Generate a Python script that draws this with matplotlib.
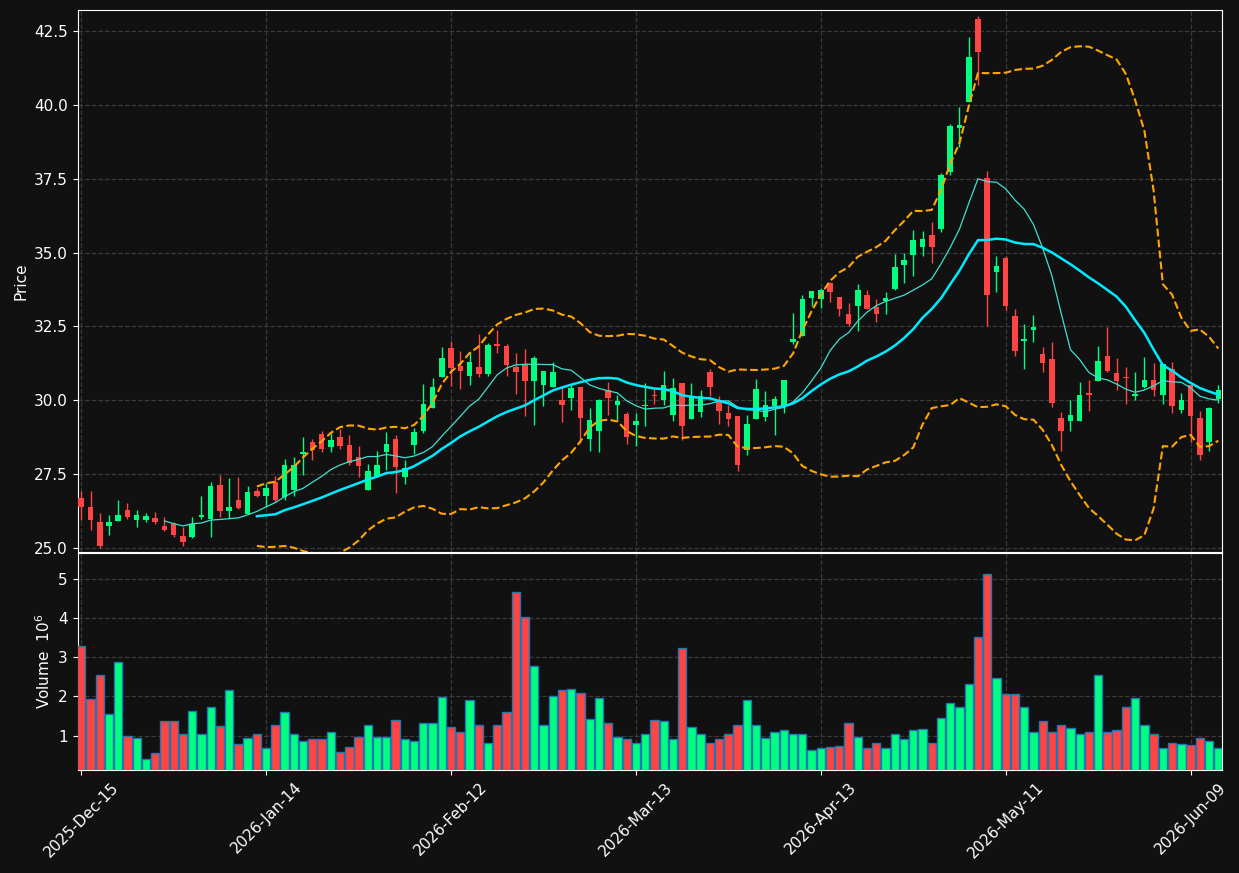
import numpy as np
import pandas as pd
import matplotlib
matplotlib.use("Agg")
import matplotlib.pyplot as plt

# ── Données OHLC ──
opens = [26.69, 26.39, 25.88, 25.74, 25.91, 26.29, 25.95, 25.95, 26.02, 25.74,
         25.82, 25.41, 25.38, 26.05, 25.97, 27.13, 26.26, 26.62, 26.14, 26.93,
         26.76, 27.23, 26.72, 26.96, 28.18, 28.59, 28.86, 28.40, 28.76, 28.49,
         28.08, 26.96, 27.45, 28.25, 28.69, 27.41, 28.47, 28.94, 29.75, 30.77,
         31.77, 31.16, 30.83, 31.12, 30.88, 31.91, 31.84, 31.13, 31.22, 30.66,
         30.50, 30.43, 30.01, 30.09, 30.44, 28.70, 28.94, 30.33, 29.84, 29.54,
         29.16, 29.80, 30.18, 30.02, 29.51, 30.59, 29.38, 29.59, 30.96, 30.02,
         29.58, 29.47, 28.30, 29.38, 29.42, 29.79, 29.79, 31.98, 32.19, 33.47,
         33.43, 33.96, 33.49, 32.92, 33.20, 33.56, 33.14, 33.35, 33.77, 34.59,
         34.90, 35.20, 35.60, 35.80, 37.74, 39.20, 40.11, 42.91, 37.54, 34.35,
         34.83, 32.85, 32.02, 32.36, 31.57, 31.41, 29.40, 29.28, 29.31, 30.25,
         30.66, 31.50, 30.91, 30.77, 30.13, 30.45, 30.69, 30.18, 31.05, 29.67,
         30.50, 29.40, 28.57, 30.03]
highs = [26.91, 26.93, 26.17, 26.11, 26.62, 26.52, 26.29, 26.17, 26.21, 26.03,
         25.87, 25.72, 26.06, 26.75, 27.22, 27.47, 27.36, 27.40, 27.10, 27.02,
         27.19, 27.42, 28.00, 28.07, 28.75, 28.68, 28.94, 28.89, 29.03, 28.81,
         28.45, 27.85, 28.27, 28.92, 28.83, 27.96, 29.05, 30.55, 30.74, 31.79,
         32.01, 31.68, 31.62, 32.23, 31.93, 32.36, 31.91, 31.59, 31.73, 31.50,
         30.99, 31.29, 30.43, 30.55, 30.44, 29.73, 30.03, 30.62, 30.18, 29.60,
         29.56, 30.57, 30.38, 30.99, 30.74, 30.59, 30.57, 30.36, 31.07, 30.13,
         29.84, 29.47, 29.49, 30.71, 30.32, 30.15, 30.69, 32.95, 33.57, 33.70,
         33.79, 34.01, 33.49, 33.30, 33.94, 33.73, 33.42, 33.67, 34.94, 34.97,
         35.77, 35.74, 36.03, 37.68, 39.35, 39.94, 42.29, 43.01, 37.76, 34.88,
         34.88, 33.08, 32.58, 32.89, 31.79, 31.96, 29.59, 29.99, 30.61, 30.69,
         31.84, 32.47, 31.42, 31.12, 30.97, 31.45, 31.25, 31.23, 31.31, 30.24,
         30.50, 29.64, 29.78, 30.52]
lows = [25.95, 25.59, 24.99, 25.42, 25.90, 25.97, 25.72, 25.89, 25.80, 25.58,
        25.38, 25.05, 25.32, 25.98, 25.36, 26.06, 26.00, 26.32, 26.14, 26.71,
        26.40, 26.56, 26.63, 26.76, 27.47, 27.98, 28.23, 28.23, 28.34, 27.81,
        27.39, 26.96, 27.45, 27.64, 26.85, 27.16, 28.18, 28.90, 29.75, 30.77,
        30.48, 30.39, 30.50, 30.80, 30.83, 31.59, 30.82, 30.20, 29.47, 29.16,
        29.82, 30.43, 29.25, 29.67, 28.54, 28.28, 28.23, 29.51, 29.33, 28.50,
        28.46, 29.13, 29.87, 29.84, 29.28, 28.66, 29.38, 29.42, 30.13, 29.19,
        29.11, 27.60, 28.14, 29.38, 29.28, 28.81, 29.55, 31.90, 32.19, 33.20,
        33.11, 33.32, 32.85, 32.52, 32.35, 33.09, 32.64, 32.92, 33.73, 33.96,
        34.19, 34.87, 34.64, 35.71, 37.63, 38.56, 40.11, 40.67, 32.52, 33.67,
        33.06, 31.48, 31.05, 31.98, 30.95, 29.76, 28.29, 28.97, 29.31, 29.62,
        30.66, 30.95, 30.35, 29.86, 29.99, 30.40, 30.13, 29.86, 29.58, 29.56,
        28.60, 27.96, 28.29, 29.92]
closes = [26.37, 25.96, 25.07, 25.88, 26.12, 26.05, 26.11, 26.07, 25.88, 25.61,
          25.44, 25.20, 25.82, 26.12, 27.10, 26.26, 26.38, 26.35, 26.90, 26.77,
          27.02, 26.62, 27.81, 27.81, 28.25, 28.32, 28.35, 28.66, 28.45, 27.89,
          27.78, 27.60, 27.81, 28.52, 27.75, 27.70, 28.93, 29.87, 30.44, 31.42,
          31.08, 31.00, 31.29, 30.87, 31.87, 31.85, 31.19, 30.94, 30.66, 31.43,
          30.99, 30.96, 29.85, 30.42, 29.41, 29.33, 30.01, 30.09, 29.98, 28.77,
          29.30, 29.83, 30.15, 30.51, 30.42, 29.11, 30.15, 30.15, 30.43, 29.65,
          29.36, 27.79, 29.20, 30.38, 29.83, 30.05, 30.69, 32.08, 33.43, 33.70,
          33.73, 33.68, 33.09, 32.58, 33.73, 33.09, 32.92, 33.46, 34.52, 34.75,
          35.43, 35.46, 35.17, 37.63, 39.29, 39.31, 41.61, 41.80, 33.56, 34.55,
          33.20, 31.65, 32.07, 32.47, 31.27, 29.92, 28.94, 29.50, 30.18, 30.19,
          31.33, 31.00, 30.66, 30.74, 30.22, 30.69, 30.35, 31.23, 29.82, 30.01,
          29.48, 28.15, 29.74, 30.35]
# volume en millions
volumes = [3.28, 1.93, 2.54, 1.54, 2.87, 0.98, 0.95, 0.39, 0.55, 1.38,
           1.36, 1.05, 1.64, 1.05, 1.74, 1.24, 2.16, 0.78, 0.93, 1.03,
           0.68, 1.26, 1.61, 1.05, 0.85, 0.90, 0.90, 1.08, 0.57, 0.70,
           0.96, 1.26, 0.96, 0.96, 1.39, 0.90, 0.85, 1.31, 1.31, 1.98,
           1.23, 1.10, 1.90, 1.26, 0.82, 1.28, 1.61, 4.66, 4.02, 2.79,
           1.26, 2.02, 2.16, 2.18, 2.10, 1.43, 1.95, 1.33, 0.97, 0.92,
           0.82, 1.05, 1.41, 1.36, 0.92, 3.23, 1.23, 1.05, 0.82, 0.90,
           1.03, 1.28, 1.90, 1.26, 0.95, 1.08, 1.15, 1.03, 1.03, 0.62,
           0.69, 0.72, 0.74, 1.31, 0.97, 0.67, 0.82, 0.69, 1.05, 0.92,
           1.13, 1.18, 0.80, 1.46, 1.84, 1.74, 2.33, 3.51, 5.14, 2.46,
           2.07, 2.07, 1.72, 1.10, 1.38, 1.10, 1.28, 1.20, 1.05, 1.10,
           2.54, 1.08, 1.13, 1.72, 1.97, 1.28, 1.05, 0.69, 0.80, 0.78,
           0.75, 0.95, 0.87, 0.67]

# jours de bourse (NYSE) à partir du 15 déc. 2025
holidays = ["2025-12-25", "2026-01-01", "2026-01-19", "2026-02-16",
            "2026-04-03", "2026-05-25"]
dates = pd.bdate_range("2025-12-15", periods=140, freq="C", holidays=holidays)[:len(closes)]

df = pd.DataFrame({"open": opens, "high": highs, "low": lows,
                   "close": closes, "volume": volumes}, index=dates)
df["ma10"] = df["close"].rolling(10).mean()
df["ma20"] = df["close"].rolling(20).mean()
std20 = df["close"].rolling(20).std(ddof=0)
df["bb_up"] = df["ma20"] + 2 * std20
df["bb_dn"] = df["ma20"] - 2 * std20

# ── Couleurs ──
BG = "#111111"
UP = "#00ff80"
DOWN = "#ff4444"
GRID = "#3a3a3a"
FG = "white"

x = np.arange(len(df))
up = df["close"] >= df["open"]
colors = np.where(up, UP, DOWN)

fig = plt.figure(figsize=(12.39, 8.73), dpi=100, facecolor=BG)
ax = fig.add_axes([0.0626, 0.3677, 0.9237, 0.6208], facecolor=BG)
axv = fig.add_axes([0.0626, 0.118, 0.9237, 0.2486], facecolor=BG, sharex=ax)

# ════════════════════════════════════════════════
# Panneau prix
# ════════════════════════════════════════════════
ax.vlines(x, df["low"], df["high"], colors=colors, linewidth=1.0, zorder=2)
body_bot = np.minimum(df["open"], df["close"])
body_h = np.maximum((df["close"] - df["open"]).abs(), 0.03)
ax.bar(x, body_h, bottom=body_bot, width=0.6, color=colors, linewidth=0, zorder=3)

ax.plot(x, df["ma10"], color="#40e0d0", linewidth=0.9, zorder=4)
ax.plot(x, df["ma20"], color="#00eaff", linewidth=1.8, zorder=4)
ax.plot(x, df["bb_up"], color="#ffa500", linestyle="--", linewidth=1.5, zorder=4)
ax.plot(x, df["bb_dn"], color="#ffa500", linestyle="--", linewidth=1.5, zorder=4)

ax.set_ylim(24.86, 43.21)
ax.set_yticks(np.arange(25, 43, 2.5))
ax.set_ylabel("Price", color=FG, fontsize=11)
ax.tick_params(axis="x", labelbottom=False, length=0)

# ════════════════════════════════════════════════
# Panneau volume
# ════════════════════════════════════════════════
axv.bar(x, df["volume"], width=0.9, color=colors, edgecolor="#1f77b4", linewidth=1.0, zorder=3)
axv.set_ylim(0.12, 5.67)
axv.set_yticks([1, 2, 3, 4, 5])
axv.set_ylabel("Volume  $10^{6}$", color=FG, fontsize=11)

ticks = x[::20]
axv.set_xticks(ticks)
axv.set_xticklabels([d.strftime("%Y-%b-%d") for d in df.index[::20]],
                    rotation=45, ha="center", fontsize=11)
axv.set_xlim(-0.4, len(df) - 0.6)

for a in (ax, axv):
    a.grid(True, color=GRID, linestyle="--", linewidth=0.9)
    a.set_axisbelow(True)
    for s in a.spines.values():
        s.set_color(FG)
    a.tick_params(colors=FG, labelsize=11)

fig.savefig("out.png", dpi=100, facecolor=BG)
